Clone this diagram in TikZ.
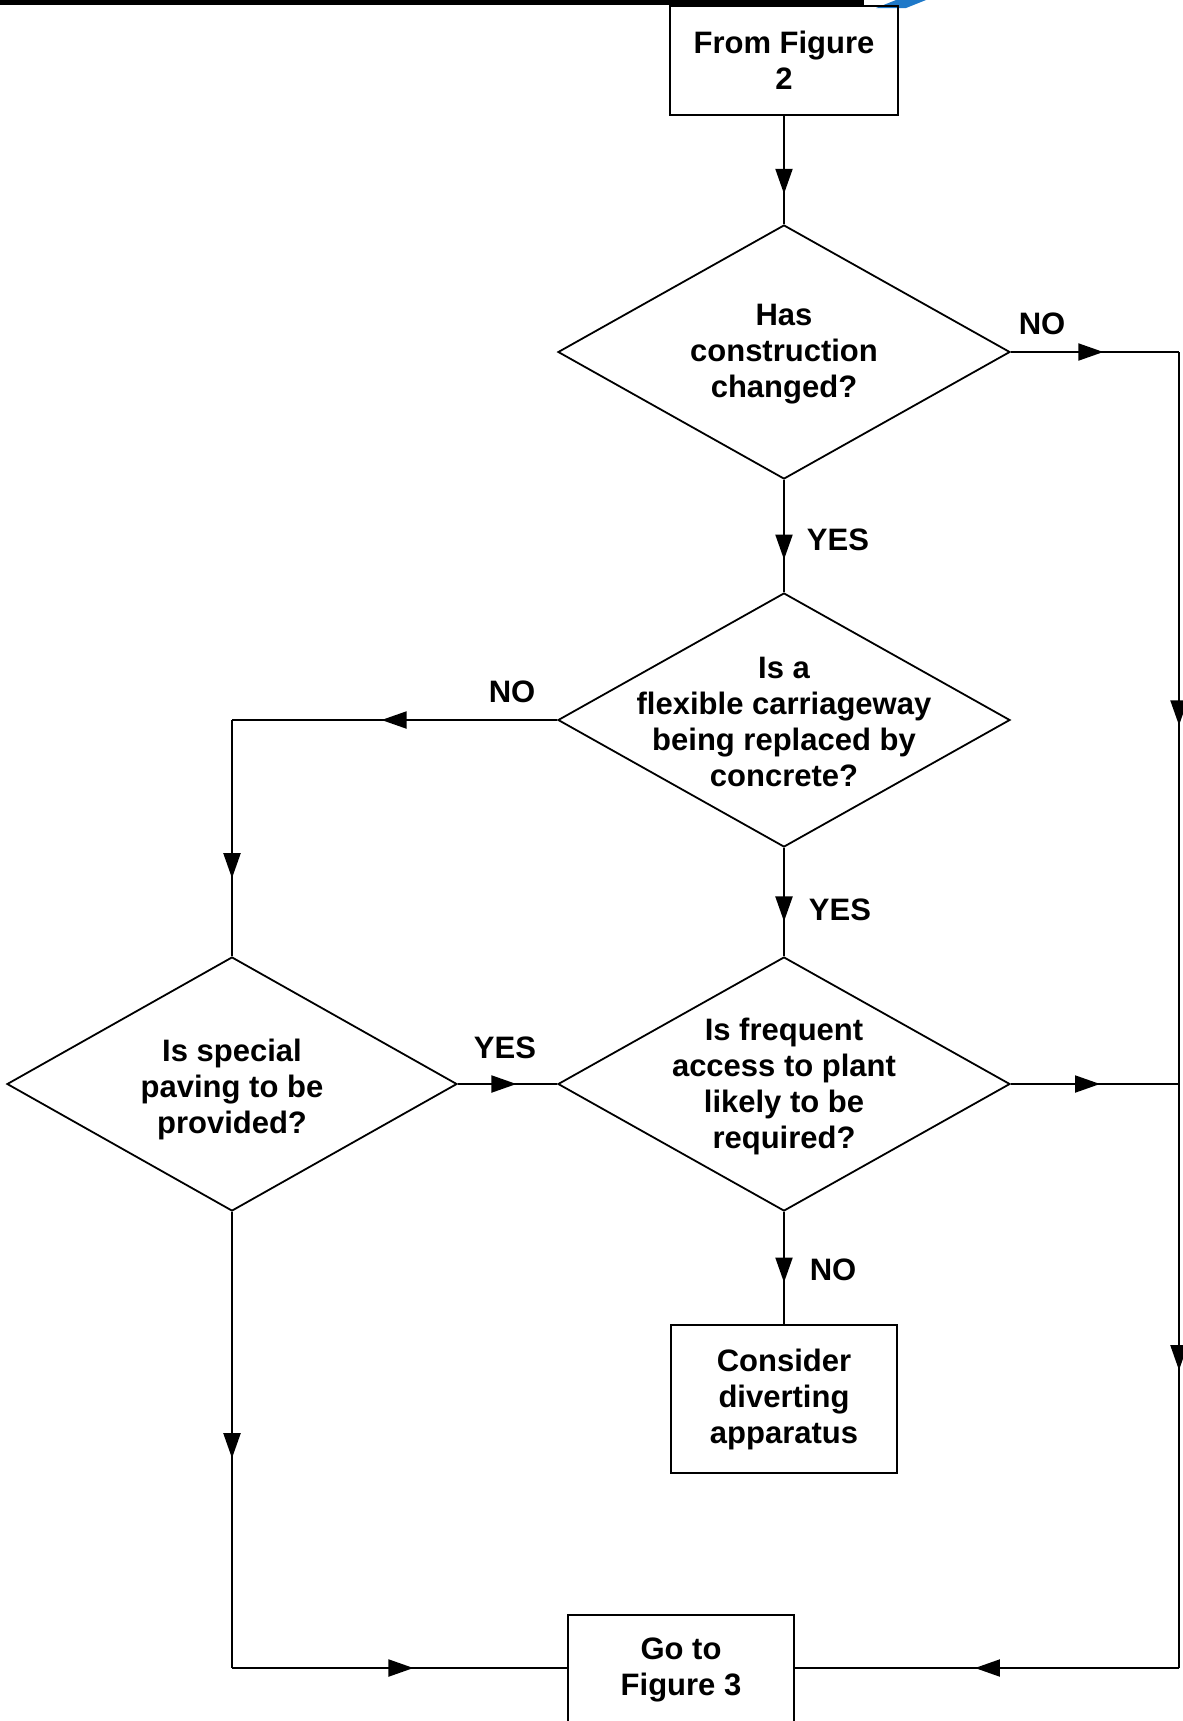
\documentclass[tikz,border=0pt]{standalone}
\usepackage{fontspec}
\setmainfont{Liberation Sans}
\usetikzlibrary{shapes.geometric,arrows.meta,decorations.markings}
\definecolor{swoosh}{RGB}{30,120,200}
\begin{document}
\begin{tikzpicture}[x=0.5pt,y=-0.5pt,
  every node/.style={font=\fontsize{15.5}{18}\selectfont\bfseries},
  box/.style={draw, rectangle, inner sep=0pt, align=center, line width=1pt},
  dia/.style={draw, shape=diamond, inner sep=0pt, minimum width=226pt, minimum height=127pt, line width=0.9pt},
  txt/.style={align=center, inner sep=0pt},
  lbl/.style={inner sep=0pt},
  conn/.style={line width=1pt},
  tipat/.style={postaction={decorate,decoration={markings,mark=at position #1 with {\arrow{Triangle[length=12.5pt,width=8.5pt]}}}}}
]
\useasboundingbox (0,0) rectangle (1183,1721);

% cropped header fragments
\draw[line width=2.5pt] (0,2.5) -- (864,2.5);
\fill[swoosh] (876,8) -- (896,0) -- (926,0) -- (906,8) -- cycle;

% nodes
\node[box, minimum width=114pt, minimum height=54.5pt] (f2) at (784,60.5) {From Figure\\2};
\node[dia] (d1) at (784,352) {};
\node[txt] (t1) at (784,354) {Has\\construction\\changed?};
\node[dia] (d2) at (784,720) {};
\node[txt] (t2) at (784,722) {Is a\\flexible carriageway\\being replaced by\\concrete?};
\node[dia] (d3) at (784,1084) {};
\node[txt] (t3) at (784,1086) {Is frequent\\access to plant\\likely to be\\required?};
\node[dia, minimum width=225pt] (d4) at (232,1084) {};
\node[txt] (t4) at (232,1089) {Is special\\paving to be\\provided?};
\node[box, minimum width=113pt, minimum height=74pt] (cons) at (784,1399) {Consider\\diverting\\apparatus};
\node[txt, minimum width=113pt] (go) at (681,1670) {Go to\\Figure 3};
\draw[conn] (568,1760) -- (568,1615) -- (794,1615) -- (794,1760);

% helper coordinates
\coordinate (c1) at (d4.north |- d2.west);
\coordinate (c2) at (232,1668);
\coordinate (c3) at (1179,352);
\coordinate (c4) at (1179,1084);
\coordinate (c5) at (1179,1668);
\coordinate (gw) at (568,1668);
\coordinate (ge) at (794,1668);

% connectors
\draw[conn,tipat=0.72] (f2.south) -- (d1.north);
\draw[conn,tipat=0.71] (d1.south) -- (d2.north);
\draw[conn,tipat=0.54] (d2.west) -- (c1);
\draw[conn,tipat=0.67] (c1) -- (d4.north);
\draw[conn,tipat=0.68] (d2.south) -- (d3.north);
\draw[conn,tipat=0.59] (d4.east) -- (d3.west);
\draw[conn,tipat=0.63] (d3.south) -- (cons.north);
\draw[conn,tipat=0.54] (d4.south) -- (c2);
\draw[conn,tipat=0.54] (c2) -- (gw);
\draw[conn,tipat=0.55] (d1.east) -- (c3);
\draw[conn,tipat=0.51] (c3) -- (c4);
\draw[conn,tipat=0.49] (c4) -- (c5);
\draw[conn,tipat=0.53] (c5) -- (ge);
\draw[conn,tipat=0.53] (d3.east) -- (c4);

% labels
\node[lbl] (no1) at (1042,324) {NO};
\node[lbl] (yes1) at (838,540) {YES};
\node[lbl] (no2) at (512,692) {NO};
\node[lbl] (yes2) at (840,910) {YES};
\node[lbl] (yes3) at (505,1048) {YES};
\node[lbl] (no3) at (833,1270) {NO};
\end{tikzpicture}
\end{document}
